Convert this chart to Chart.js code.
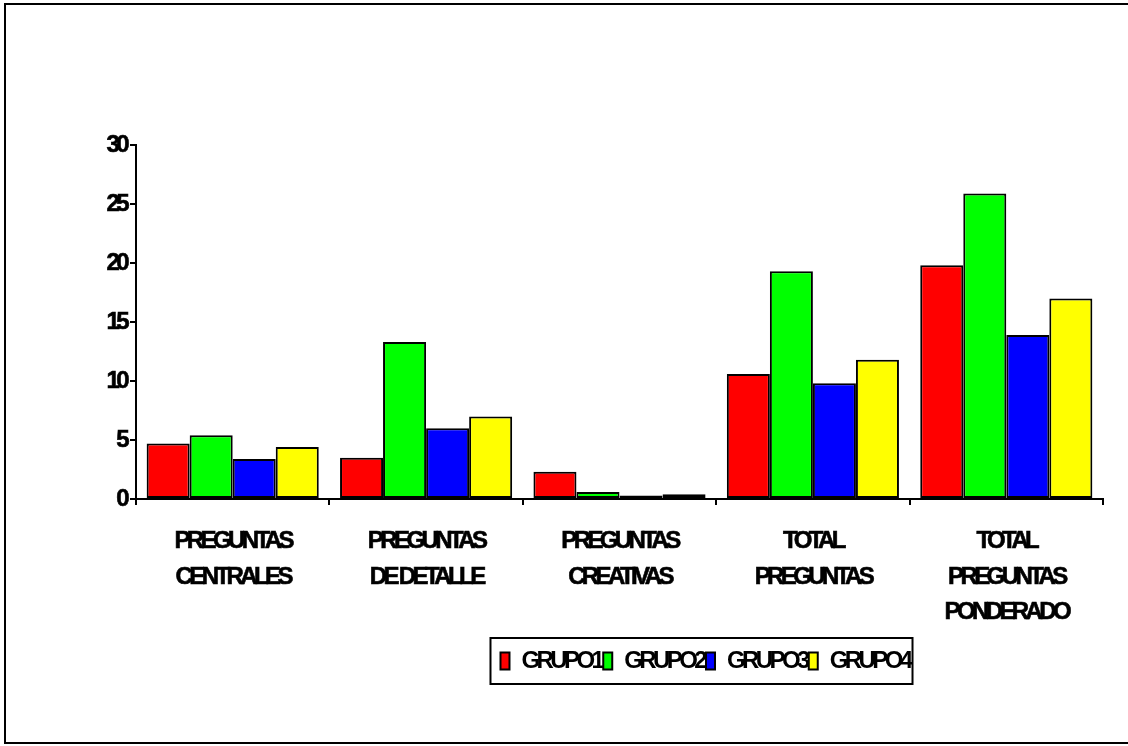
<!DOCTYPE html>
<html>
<head>
<meta charset="utf-8">
<script src="https://cdn.jsdelivr.net/npm/chart.js@4/dist/chart.umd.min.js"></script>
<style>
  body { margin: 0; background: #fff; }
  canvas { display: block; }
</style>
</head>
<body>
<canvas id="mycanvas" width="1128" height="746"></canvas>
<script>
// categorias del eje X (una linea por elemento)
var categorias = [
  ["PREGUNTAS", "CENTRALES"],
  ["PREGUNTAS", "DE DETALLE"],
  ["PREGUNTAS", "CREATIVAS"],
  ["TOTAL", "PREGUNTAS"],
  ["TOTAL", "PREGUNTAS", "PONDERADO"]
];
var grupos = ["GRUPO1", "GRUPO2", "GRUPO3", "GRUPO4"];
var grupo1 = [4.7, 3.5, 2.3, 10.6, 19.8];
var grupo2 = [5.4, 13.3, 0.6, 19.3, 25.9];
var grupo3 = [3.4, 6.0, 0.3, 9.8, 13.9];
var grupo4 = [4.4, 7.0, 0.4, 11.8, 17.0];
var ticksY = [0, 5, 10, 15, 20, 25, 30];

var colores = ['#ff0000', '#00ff00', '#0000ff', '#ffff00'];
var series = [grupo1, grupo2, grupo3, grupo4];

var fuente = { family: "'Liberation Sans', Arial, sans-serif", size: 24, weight: 'bold', lineHeight: 1.47 };

// texto apretado como en el original
function apretar(chart) { chart.ctx.letterSpacing = '-3.6px'; }

var marcos = {
  id: 'marcos',
  afterInit: apretar,
  beforeLayout: apretar,
  beforeDraw: apretar,
  afterLayout: function(chart) {
    // la leyenda va corrida a la derecha del centro
    var lg = chart.legend;
    var dx = 705 - (lg.left + lg.right) / 2;
    lg.left += dx;
    lg.right += dx;
  },
  afterDraw: function(chart) {
    var ctx = chart.ctx;
    var cajas = chart.legend.legendHitBoxes;
    ctx.save();
    ctx.strokeStyle = '#000';
    ctx.lineWidth = 2;
    ctx.strokeRect(5, 4, 1130, 739);
    if (cajas.length) {
      var ult = cajas[cajas.length - 1];
      var izq = cajas[0].left - 10;
      var der = ult.left + ult.width + 3;
      var medio = cajas[0].top + cajas[0].height / 2;
      ctx.strokeRect(izq, medio - 23, der - izq, 46);
    }
    ctx.restore();
  }
};

var ctx = document.getElementById('mycanvas');

var datasets = series.map(function(d, i) {
  return {
    label: grupos[i],
    data: d,
    backgroundColor: colores[i],
    borderColor: '#000',
    borderWidth: 2,
    borderSkipped: false,
    barPercentage: 1.0,
    categoryPercentage: 0.89
  };
});

var mycanvas = new Chart(ctx, {
  type: 'bar',
  data: { labels: categorias, datasets: datasets },
  plugins: [marcos],
  options: {
    responsive: false,
    animation: false,
    events: [],
    color: '#000',
    layout: { padding: { top: 145, right: 25, bottom: 63, left: 0 } },
    plugins: {
      tooltip: { enabled: false },
      legend: {
        position: 'bottom',
        labels: {
          boxWidth: 9,
          boxHeight: 17,
          padding: 2,
          color: '#000',
          font: fuente
        }
      }
    },
    scales: {
      x: {
        grid: { display: true, drawOnChartArea: false, drawTicks: true, tickLength: 6, color: '#000', lineWidth: 2, offset: true },
        border: { display: true, color: '#000', width: 2 },
        ticks: { color: '#000', font: fuente, padding: 19, maxRotation: 0, autoSkip: false, textStrokeColor: '#000', textStrokeWidth: 0.6 },
        afterFit: function(s) { s.height = 148; }
      },
      y: {
        min: 0,
        max: 30,
        grid: { drawOnChartArea: false, drawTicks: true, tickLength: 6, color: '#000', lineWidth: 2 },
        border: { display: true, color: '#000', width: 2 },
        ticks: { color: '#000', font: fuente, padding: 4, textStrokeColor: '#000', textStrokeWidth: 0.6 },
        afterBuildTicks: function(s) {
          s.ticks = ticksY.map(function(v) { return { value: v }; });
        },
        afterFit: function(s) { s.width = 136; }
      }
    }
  }
});
</script>
</body>
</html>
